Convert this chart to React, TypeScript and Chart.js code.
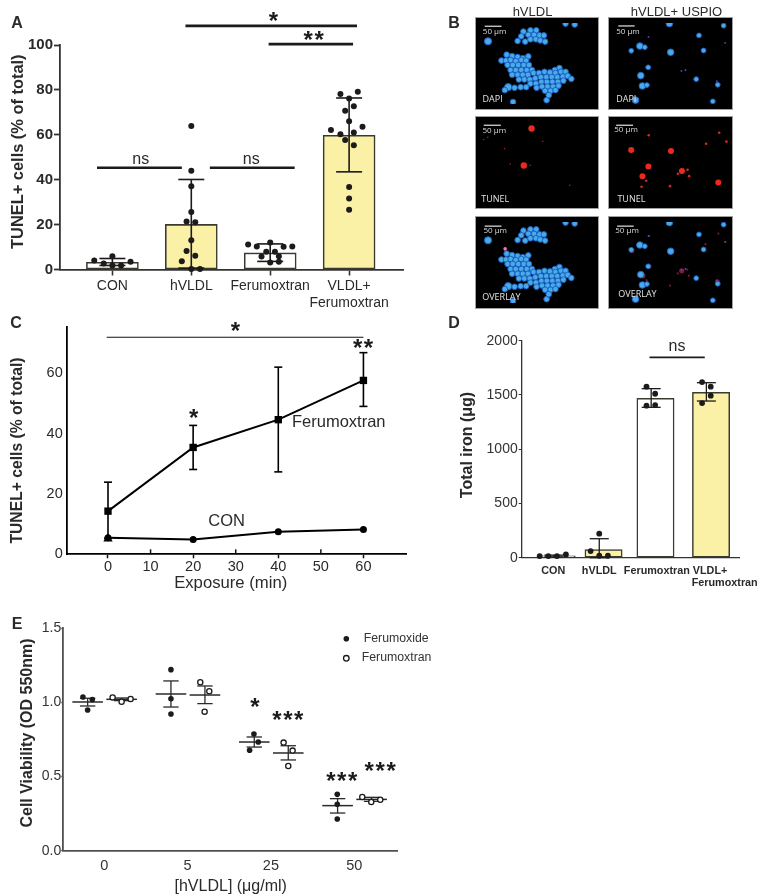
import React, { useEffect, useRef } from "react";
import { Chart, registerables } from "chart.js";

Chart.register(...registerables);

const SANS = '"Liberation Sans", Arial, sans-serif';
const INK = "#1c1a1a";
const TEXT = "#2a2a2a";
const YELLOW = "#faf1a6";

/* ---------- Panel A ---------- */
const aLabels = ["CON", "hVLDL", "Ferumoxtran", ["VLDL+", "Ferumoxtran"]];
const aMeans = [3.2, 20.1, 7.4, 59.8];
const aLow = [1.8, 0.6, 3.6, 43.5];
const aHigh = [4.9, 40.1, 11.4, 76.4];
const aConX = [0.77, 0.89, 1, 1, 1.11, 1.23];
const aConY = [4, 2.7, 5.9, 1.8, 1.8, 3.4];
const aVldlX = [2, 2, 2, 2, 1.94, 2.05, 2, 1.94, 2.05, 1.88, 2, 2.11];
const aVldlY = [63.9, 44, 37.1, 25.6, 21.4, 21, 13, 8.2, 6.1, 3.7, 0.2, 0.2];
const aFeruX = [2.72, 2.83, 3, 3.17, 3.28, 2.95, 3.06, 2.89, 3.11, 3, 3.11];
const aFeruY = [11.1, 10.3, 12, 10.1, 10.3, 7.9, 7.9, 5.8, 5.9, 3.1, 3.4];
const aBothX = [3.89, 4.11, 4, 4.06, 3.95, 4, 3.77, 3.89, 4.06, 4.17, 3.95, 4.06, 4, 4, 4];
const aBothY = [78.2, 79.2, 76.2, 72.7, 70.7, 66, 62.1, 60.3, 61, 63.6, 57.7, 55.3, 36.7, 31.6, 26.6];

/* ---------- Panel C ---------- */
const cTimes = [0, 20, 40, 60];
const cFeru = [14.3, 35.4, 44.6, 57.6];
const cFeruLow = [5.3, 28.1, 27.3, 49];
const cFeruHigh = [23.9, 42.7, 62, 66.8];
const cCon = [5.5, 4.9, 7.5, 8.2];
const cTicks = [0, 10, 20, 30, 40, 50, 60];

/* ---------- Panel D ---------- */
const dBarX = [1, 1.873, 2.839, 3.873];
const dMeans = [17, 74, 1469, 1524];
const dErrX = [0.95, 1.793, 2.759, 3.786];
const dLow = [8, 0, 1386, 1444];
const dHigh = [24, 175, 1558, 1613];
const dPtX = [0.684, 0.845, 1.006, 1.173, 1.793, 1.632, 1.793, 1.954, 2.672, 2.833, 2.672, 2.833, 3.706, 3.867, 3.867, 3.706];
const dPtY = [15, 15, 15, 30, 221, 61, 18, 18, 1576, 1511, 1401, 1407, 1619, 1576, 1493, 1425];
const dTickX = [0.938, 1.793, 2.864, 3.854, 4.127];
const dTickLabels = ["CON", "hVLDL", "Ferumoxtran", "VLDL+", ["", "Ferumoxtran"]];

/* ---------- Panel E ---------- */
const eDoses = ["0", "5", "25", "50"];
const eFxdX = [-0.2, 0.8, 1.8, 2.8];
const eFxtX = [0.208, 1.208, 2.208, 3.208];
const eFxdMean = [1.003, 1.057, 0.733, 0.304];
const eFxdLow = [0.976, 0.969, 0.699, 0.254];
const eFxdHigh = [1.028, 1.145, 0.767, 0.351];
const eFxtMean = [1.021, 1.05, 0.659, 0.346];
const eFxtLow = [1.012, 0.992, 0.612, 0.333];
const eFxtHigh = [1.03, 1.111, 0.708, 0.36];
const eFxdPtX = [-0.256, -0.144, -0.2, 0.8, 0.8, 0.8, 1.796, 1.848, 1.744, 2.796, 2.796, 2.796];
const eFxdPtY = [1.037, 1.019, 0.949, 1.221, 1.025, 0.922, 0.787, 0.733, 0.677, 0.38, 0.313, 0.214];
const eFxtPtX = [0.1, 0.208, 0.316, 1.152, 1.26, 1.204, 2.152, 2.26, 2.208, 3.096, 3.204, 3.312];
const eFxtPtY = [1.034, 1.005, 1.023, 1.136, 1.075, 0.938, 0.729, 0.675, 0.571, 0.362, 0.328, 0.344];

/* ---------- Panel B: spots ---------- */
const dapiLeft = [
  [247, 82], [270, 78], [289, 78], [240, 98], [263, 93], [282, 93], [300, 95], [314, 95], [228, 114], [253, 116], [270, 108], [288, 108], [302, 112], [318, 116],
  [192, 160], [210, 165], [228, 168], [245, 172], [263, 166], [175, 180], [190, 180], [205, 178], [222, 182], [240, 178], [256, 180],
  [195, 195], [212, 195], [230, 195], [248, 195], [265, 195], [205, 212], [222, 212], [240, 212], [258, 212], [275, 212], [365, 205], [350, 212],
  [210, 228], [228, 228], [245, 228], [262, 228], [280, 222], [298, 222], [316, 218], [334, 220], [352, 222], [370, 218], [385, 218],
  [232, 244], [250, 244], [268, 244], [286, 240], [304, 236], [322, 236], [340, 236], [358, 236], [376, 234], [392, 232], [404, 242],
  [270, 258], [288, 258], [306, 252], [324, 252], [342, 252], [360, 252], [378, 248], [290, 272], [308, 268], [326, 268], [344, 268], [362, 265],
  [318, 282], [336, 282], [352, 280], [330, 297], [218, 272], [238, 270], [256, 270], [186, 280], [323, 314], [213, 320], [415, 58], [385, 55],
];
const dapiLeftLarge = [[131, 115], [197, 270]];
const dapiRight = [[862, 62], [782, 95], [606, 135], [562, 147], [797, 146], [617, 203], [773, 243], [843, 262], [827, 318], [613, 263]];
const dapiRightLarge = [[686, 55], [590, 131], [690, 152], [593, 231], [598, 266], [576, 314]];
const dapiRightFaint = [[618, 100], [725, 215], [867, 120], [738, 212], [840, 250]];
const tunelLeftLarge = [[249, 498], [274, 376]];
const tunelLeftSmall = [[187, 442], [120, 412], [133, 405], [310, 418], [270, 497], [205, 493], [397, 563]];
const tunelRightLarge = [[564, 447], [691, 450], [619, 501], [600, 533], [726, 516], [842, 554]];
const tunelRightSmall = [[620, 398], [845, 390], [803, 426], [868, 419], [744, 512], [713, 525], [749, 533], [597, 568], [688, 566], [612, 548]];
const overlaySpotsLeft = [[274, 378], [248, 501], [187, 442]];

type Rect = [number, number, number, number];
type Note = {
  text: string; font: string; x: number; y: number; page?: boolean; rot?: number; star?: number; align?: CanvasTextAlign; color?: string;
};

function notesPlugin(rect: Rect, notes: Note[], extra?: (c: any) => void) {
  return {
    id: "notes",
    afterDatasetsDraw(chart: any) {
      const ctx = chart.ctx;
      ctx.save();
      for (const n of notes) {
        const px = n.page ? n.x - rect[0] : chart.scales.x.getPixelForValue(n.x);
        let py = n.page ? n.y - rect[1] : chart.scales.y.getPixelForValue(n.y);
        ctx.save();
        ctx.font = n.font;
        ctx.fillStyle = n.color || TEXT;
        ctx.textAlign = n.align || "center";
        ctx.textBaseline = n.star ? "alphabetic" : "middle";
        if (n.star) {
          py += n.star * 0.46;
          (ctx as any).letterSpacing = "1.6px";
        }
        ctx.translate(px, py);
        if (n.rot) ctx.rotate(n.rot);
        ctx.fillText(n.text, 0, 0);
        ctx.restore();
      }
      if (extra) extra(chart);
      ctx.restore();
    },
  };
}

const zip = (xs: number[], ys: number[]) => xs.map((x, i) => ({ x, y: ys[i] }));

function errorBar(x: number, low: number, high: number, cap: number, color = INK, w = 1.6) {
  return {
    type: "scatter", showLine: true, clip: false, order: 3,
    data: [{ x, y: low }, { x, y: high }],
    borderColor: color, borderWidth: w,
    pointStyle: "line", pointRadius: cap, pointBorderColor: color, pointBorderWidth: w,
  };
}
function rule(x1: number, x2: number, y: number, w = 2.6, color = INK) {
  return {
    type: "scatter", showLine: true, clip: false, order: 1,
    data: [{ x: x1, y }, { x: x2, y }],
    borderColor: color, borderWidth: w, pointRadius: 0,
  };
}
function dots(xs: number[], ys: number[], r = 3, fill = INK, stroke = INK) {
  return {
    type: "scatter", order: 2, clip: false, data: zip(xs, ys),
    pointRadius: r, pointBackgroundColor: fill, pointBorderColor: stroke, pointBorderWidth: fill === INK ? 0 : 1.3,
  };
}

function frame(rect: Rect, plot: [number, number, number, number]) {
  const [, , w, h] = rect;
  const [L, T, R, B] = plot;
  const zero = (s: any) => { s.paddingLeft = s.paddingRight = s.paddingTop = s.paddingBottom = 0; };
  return {
    xFit: (s: any) => { s.height = h - B; zero(s); },
    yFit: (s: any) => { s.width = L; zero(s); },
    base: {
      responsive: false, animation: false, devicePixelRatio: 1,
      layout: { padding: { left: 0, top: T, right: w - R, bottom: 0 } },
      plugins: { legend: { display: false }, tooltip: { enabled: false } },
    },
  };
}

/* ---------- chart configs ---------- */
function configA(rect: Rect) {
  const f = frame(rect, [60, 45, 403, 269.5]);
  const bx = [1, 2, 3, 4];
  return {
    type: "bar",
    data: {
      datasets: [
        { type: "bar", order: 5, data: zip(bx, aMeans), barThickness: 52, grouped: false, backgroundColor: ["#fff", YELLOW, "#fff", YELLOW], borderColor: "#3a3a30", borderWidth: 1.6, borderSkipped: false },
        ...bx.map((x, i) => errorBar(x, aLow[i], aHigh[i], 13)),
        dots(aConX, aConY), dots(aVldlX, aVldlY), dots(aFeruX, aFeruY), dots(aBothX, aBothY),
        rule(0.805, 1.88, 45.3), rule(2.235, 3.31, 45.3), rule(1.926, 4.1, 108.5), rule(2.98, 4.05, 100.4),
      ],
    },
    options: {
      ...f.base,
      scales: {
        x: {
          type: "linear", min: 0.336, max: 4.683, offset: false, afterFit: f.xFit,
          afterBuildTicks: (s: any) => { s.ticks = bx.map((value) => ({ value })); },
          grid: { drawOnChartArea: false, offset: false, tickLength: 6, tickWidth: 1.6, tickColor: "#333" },
          border: { color: "#333", width: 1.8 },
          ticks: { autoSkip: false, maxRotation: 0, minRotation: 0, padding: 2, color: TEXT, font: { family: SANS, size: 14 }, callback: (_: any, i: number) => aLabels[i] },
        },
        y: {
          min: 0, max: 100, afterFit: f.yFit,
          grid: { drawOnChartArea: false, tickLength: 6, tickWidth: 1.8, tickColor: "#333" },
          border: { color: "#333", width: 1.8 },
          ticks: { stepSize: 20, padding: 1, color: TEXT, font: { family: SANS, size: 15, weight: "bold" } },
        },
      },
    },
    plugins: [notesPlugin(rect, [
      { page: true, x: 18, y: 151.7, rot: -Math.PI / 2, text: "TUNEL+ cells (% of total)", font: `bold 16.4px ${SANS}` },
      { x: 1.36, y: 49, text: "ns", font: `16px ${SANS}` },
      { x: 2.76, y: 49, text: "ns", font: `16px ${SANS}` },
      { x: 3.05, y: 112, star: 24, text: "*", font: `bold 24px ${SANS}`, color: INK },
      { x: 3.56, y: 103.4, star: 24, text: "**", font: `bold 24px ${SANS}`, color: INK },
    ])],
  };
}

function configC(rect: Rect) {
  const f = frame(rect, [66.7, 17, 406, 244.3]);
  const minorUp = (chart: any) => {
    const { ctx, scales } = chart;
    ctx.strokeStyle = "#111";
    ctx.lineWidth = 1.5;
    for (const v of cTicks) {
      if (cTimes.includes(v)) continue;
      const x = scales.x.getPixelForValue(v);
      ctx.beginPath();
      ctx.moveTo(x, scales.y.bottom);
      ctx.lineTo(x, scales.y.bottom - 5);
      ctx.stroke();
    }
  };
  return {
    type: "scatter",
    data: {
      datasets: [
        ...cTimes.map((x, i) => errorBar(x, cFeruLow[i], cFeruHigh[i], 4, "#000", 1.6)),
        { type: "scatter", order: 4, clip: false, data: zip([cTimes[0]], [cCon[0] - 0.4]), pointStyle: "triangle", pointRadius: 5.4, pointBackgroundColor: "#000", pointBorderWidth: 0 },
        { type: "scatter", order: 2, showLine: true, clip: false, data: zip(cTimes, cFeru), borderColor: "#000", borderWidth: 2, pointStyle: "rect", pointRadius: 5.2, pointBackgroundColor: "#000", pointBorderWidth: 0 },
        { type: "scatter", order: 2, showLine: true, clip: false, data: zip(cTimes, cCon), borderColor: "#000", borderWidth: 2, pointStyle: "circle", pointRadius: 3.5, pointBackgroundColor: "#000", pointBorderWidth: 0 },
        rule(-0.3, 60, 71.9, 1.1, "#111"),
      ],
    },
    options: {
      ...f.base,
      scales: {
        x: {
          type: "linear", min: -9.7, max: 70, afterFit: f.xFit,
          afterBuildTicks: (s: any) => { s.ticks = cTicks.map((value) => ({ value })); },
          grid: { drawOnChartArea: false, tickLength: 4, tickWidth: 1.5, tickColor: (c: any) => (cTimes.includes(c.tick?.value) ? "#111" : "rgba(0,0,0,0)") },
          border: { color: "#000", width: 1.8 },
          ticks: { autoSkip: false, maxRotation: 0, minRotation: 0, padding: 0, color: TEXT, font: { family: SANS, size: 14.5 } },
        },
        y: {
          min: 0, max: 75.3, afterFit: f.yFit,
          afterBuildTicks: (s: any) => { s.ticks = [0, 20, 40, 60].map((value) => ({ value })); },
          grid: { drawOnChartArea: false, drawTicks: false },
          border: { color: "#000", width: 1.8 },
          ticks: { padding: 4, color: TEXT, font: { family: SANS, size: 14.5 } },
        },
      },
    },
    plugins: [notesPlugin(rect, [
      { page: true, x: 18, y: 450.5, rot: -Math.PI / 2, text: "TUNEL+ cells (% of total)", font: `bold 15.7px ${SANS}` },
      { page: true, x: 230.7, y: 583.3, text: "Exposure (min)", font: `16.7px ${SANS}` },
      { x: 30.1, y: 74.9, star: 24, text: "*", font: `bold 24px ${SANS}`, color: INK },
      { x: 60.1, y: 69.4, star: 24, text: "**", font: `bold 24px ${SANS}`, color: INK },
      { x: 20.3, y: 46.2, star: 24, text: "*", font: `bold 24px ${SANS}`, color: INK },
      { page: true, x: 292, y: 422.7, align: "left", text: "Ferumoxtran", font: `16.5px ${SANS}` },
      { page: true, x: 226.7, y: 521.7, text: "CON", font: `16.5px ${SANS}` },
    ], minorUp)],
  };
}

function configD(rect: Rect) {
  const f = frame(rect, [81.7, 30.7, 299, 247.7]);
  return {
    type: "bar",
    data: {
      datasets: [
        { type: "bar", order: 5, data: zip(dBarX, dMeans), barThickness: 37.3, grouped: false, backgroundColor: ["#fff", YELLOW, "#fff", YELLOW], borderColor: "#3a3a30", borderWidth: 1.5, borderSkipped: false },
        ...dErrX.map((x, i) => errorBar(x, dLow[i], dHigh[i], 9.5, INK, 1.3)),
        dots(dPtX, dPtY, 2.9),
        rule(2.728, 3.756, 1846, 1.6),
      ],
    },
    options: {
      ...f.base,
      scales: {
        x: {
          type: "linear", min: 0.35, max: 4.393, offset: false, afterFit: f.xFit,
          afterBuildTicks: (s: any) => { s.ticks = dTickX.map((value) => ({ value })); },
          grid: { drawOnChartArea: false, offset: false, drawTicks: false },
          border: { color: "#333", width: 1.3 },
          ticks: { autoSkip: false, maxRotation: 0, minRotation: 0, padding: 7, color: TEXT, font: { family: SANS, size: 10.8, weight: "bold", lineHeight: 1.15 }, callback: (_: any, i: number) => dTickLabels[i] },
        },
        y: {
          min: 0, max: 2000, afterFit: f.yFit,
          grid: { drawOnChartArea: false, tickLength: 3, tickWidth: 1, tickColor: "#333" },
          border: { color: "#333", width: 1.3 },
          ticks: { stepSize: 500, padding: 1, color: "#333", font: { family: SANS, size: 14 }, callback: (v: any) => String(v) },
        },
      },
    },
    plugins: [notesPlugin(rect, [
      { page: true, x: 467.3, y: 445, rot: -Math.PI / 2, text: "Total iron (\u03bcg)", font: `bold 16px ${SANS}` },
      { x: 3.24, y: 1945, text: "ns", font: `16px ${SANS}` },
    ])],
  };
}

function configE(rect: Rect) {
  const f = frame(rect, [63.3, 18.3, 397, 240.7]);
  const legend = (chart: any) => {
    const { ctx } = chart;
    ctx.lineWidth = 1.3;
    ctx.fillStyle = INK;
    ctx.strokeStyle = INK;
    ctx.beginPath(); ctx.arc(346.3 - rect[0], 638.7 - rect[1], 2.8, 0, Math.PI * 2); ctx.fill();
    ctx.fillStyle = "#fff";
    ctx.beginPath(); ctx.arc(346.3 - rect[0], 658.3 - rect[1], 2.8, 0, Math.PI * 2); ctx.fill(); ctx.stroke();
  };
  const group = (xs: number[], means: number[], lows: number[], highs: number[]) =>
    xs.flatMap((x, i) => [
      errorBar(x, lows[i], highs[i], 7.7, "#2a2a2a", 1.3),
      {
        type: "scatter", showLine: false, order: 3, clip: false, data: [{ x, y: means[i] }],
        pointStyle: "line", pointRadius: 15.3, pointBorderColor: "#2a2a2a", pointBorderWidth: 1.5,
      },
    ]);
  return {
    type: "scatter",
    data: {
      datasets: [
        ...group(eFxdX, eFxdMean, eFxdLow, eFxdHigh),
        ...group(eFxtX, eFxtMean, eFxtLow, eFxtHigh),
        dots(eFxdPtX, eFxdPtY, 2.8),
        dots(eFxtPtX, eFxtPtY, 2.6, "#fff", INK),
      ],
    },
    options: {
      ...f.base,
      scales: {
        x: {
          type: "linear", min: -0.492, max: 3.513, afterFit: f.xFit,
          afterBuildTicks: (s: any) => { s.ticks = eDoses.map((_, value) => ({ value })); },
          grid: { drawOnChartArea: false, drawTicks: false },
          border: { color: "#505050", width: 1.8 },
          ticks: { autoSkip: false, maxRotation: 0, minRotation: 0, padding: 7, color: "#333", font: { family: SANS, size: 14.5 }, callback: (_: any, i: number) => eDoses[i] },
        },
        y: {
          min: 0, max: 1.5, afterFit: f.yFit,
          grid: { drawOnChartArea: false, tickLength: 2, tickWidth: 1.6, tickColor: "#505050" },
          border: { color: "#505050", width: 1.8 },
          ticks: { stepSize: 0.5, padding: 0, color: "#333", font: { family: SANS, size: 14 }, callback: (v: any) => Number(v).toFixed(1) },
        },
      },
    },
    plugins: [notesPlugin(rect, [
      { page: true, x: 27.7, y: 733, rot: -Math.PI / 2, text: "Cell Viability (OD 550nm)", font: `bold 16px ${SANS}` },
      { page: true, x: 230.7, y: 886.7, text: "[hVLDL] (\u03bcg/ml)", font: `16px ${SANS}` },
      { x: 1.816, y: 0.989, star: 24, text: "*", font: `bold 24px ${SANS}`, color: INK },
      { x: 2.212, y: 0.9, star: 24, text: "***", font: `bold 24px ${SANS}`, color: INK },
      { x: 2.86, y: 0.492, star: 24, text: "***", font: `bold 24px ${SANS}`, color: INK },
      { x: 3.32, y: 0.561, star: 24, text: "***", font: `bold 24px ${SANS}`, color: INK },
      { page: true, x: 363.7, y: 638.7, align: "left", text: "Ferumoxide", font: `12.3px ${SANS}`, color: "#333" },
      { page: true, x: 361.7, y: 657.7, align: "left", text: "Ferumoxtran", font: `12.3px ${SANS}`, color: "#333" },
    ], legend)],
  };
}

/* micrograph panels */
const spots = (pts: number[][], dx: number, dy: number, r: number, fill: string, stroke = "rgba(0,0,0,0)", bw = 0) => ({
  type: "scatter", data: pts.map(([x, y]) => ({ x: x - dx, y: y - dy })),
  pointRadius: r, pointBackgroundColor: fill, pointBorderColor: stroke, pointBorderWidth: bw,
});
const CELL = "#4aaae8";
const CELLEDGE = "#1a62c6";
const leftDapi = () => [
  spots(dapiLeft, 108, 53, 2.8, CELL, CELLEDGE, 1),
  spots(dapiLeftLarge, 108, 53, 3.6, CELL, CELLEDGE, 1),
];
const rightDapi = () => [
  spots(dapiRightFaint, 506, 53, 0.9, "#5a4ac0"),
  spots(dapiRight, 506, 53, 2.4, CELL, CELLEDGE, 1),
  spots(dapiRightLarge, 506, 53, 3.3, CELL, CELLEDGE, 1),
];
type Mic = { rect: Rect; sets: any[]; tag: string; tagAt: [number, number]; scaleText: [number, number]; bar: [number, number, number] };

const mics: Mic[] = [
  { rect: [476, 17.7, 122.3, 91.3], sets: leftDapi(), tag: "DAPI", tagAt: [5, 259], scaleText: [6, 31], bar: [12, 67, 11] },
  { rect: [608.7, 17.7, 123, 91.3], sets: rightDapi(), tag: "DAPI", tagAt: [7, 259], scaleText: [7, 29], bar: [14, 67, 10] },
  { rect: [476, 117, 122.3, 91.3], sets: [spots(tunelLeftLarge, 108, 351, 3.2, "#e82a20"), spots(tunelLeftSmall, 108, 351, 0.8, "#a02418")], tag: "TUNEL", tagAt: [4, 259], scaleText: [8, 31], bar: [12, 67, 14] },
  { rect: [608.7, 117, 123, 91.3], sets: [spots(tunelRightLarge, 506, 351, 3, "#e82a20"), spots(tunelRightSmall, 506, 351, 1.3, "#d42a20")], tag: "TUNEL", tagAt: [14, 259], scaleText: [4, 30], bar: [10, 64, 14] },
  { rect: [476, 217, 122.3, 91.3], sets: [...leftDapi(), spots(overlaySpotsLeft, 108, 351, 1.8, "#ff6fc0")], tag: "OVERLAY", tagAt: [4, 254], scaleText: [8, 31], bar: [12, 67, 14] },
  { rect: [608.7, 217, 123, 91.3], sets: [...rightDapi(), spots(tunelRightLarge, 506, 351, 2.6, "rgba(226,50,110,0.55)"), spots(tunelRightSmall, 506, 351, 1.1, "rgba(200,40,90,0.6)")], tag: "OVERLAY", tagAt: [14, 246], scaleText: [4, 30], bar: [10, 64, 14] },
];

function configMic(m: Mic) {
  const [a, b, y] = m.bar;
  return {
    type: "scatter",
    data: {
      datasets: [
        ...m.sets,
        { type: "scatter", showLine: true, data: [{ x: a, y }, { x: b, y }], borderColor: "#e6e6e6", borderWidth: 1.2, pointRadius: 0 },
      ],
    },
    options: {
      responsive: false, animation: false, devicePixelRatio: 1,
      layout: { padding: 0 },
      plugins: { legend: { display: false }, tooltip: { enabled: false } },
      scales: { x: { display: false, min: 0, max: 367 }, y: { display: false, min: 0, max: 274, reverse: true } },
    },
    plugins: [notesPlugin(m.rect, [
      { x: m.scaleText[0], y: m.scaleText[1], align: "left", text: "50 \u00b5m", font: `8px "Open Sans", ${SANS}`, color: "#dcdcdc" },
      { x: m.tagAt[0], y: m.tagAt[1], align: "left", text: m.tag, font: `9px "Open Sans", ${SANS}`, color: "#e4e4e4" },
    ])],
  };
}

function Plot({ rect, make, micro }: { rect: Rect; make: () => any; micro?: boolean }) {
  const ref = useRef<HTMLCanvasElement>(null);
  useEffect(() => {
    const chart = new Chart(ref.current as any, make());
    return () => chart.destroy();
  }, []);
  const style: React.CSSProperties = {
    position: "absolute", left: rect[0], top: rect[1], width: rect[2], height: rect[3],
    ...(micro ? { background: "#000", outline: "1px solid #a0a0a0", filter: "blur(0.35px)" } : {}),
  };
  return <canvas ref={ref} width={rect[2]} height={rect[3]} style={style} />;
}

function Tag({ x, y, children, bold, size }: { x: number; y: number; children: React.ReactNode; bold?: boolean; size: number }) {
  return (
    <div style={{
      position: "absolute", left: x, top: y, transform: "translate(-50%,-50%)", whiteSpace: "nowrap",
      font: `${bold ? "bold " : ""}${size}px ${SANS}`, color: TEXT, lineHeight: 1,
    }}>{children}</div>
  );
}

export default function App() {
  useEffect(() => {
    document.body.style.margin = "0";
    document.body.style.background = "#fff";
  }, []);
  const rA: Rect = [0, 0, 440, 316];
  const rC: Rect = [0, 310, 420, 290];
  const rD: Rect = [440, 310, 318, 290];
  const rE: Rect = [0, 610, 460, 286];
  return (
    <div style={{ position: "absolute", left: 0, top: 0, width: 758, height: 896, overflow: "hidden", background: "#fff" }}>
      <Plot rect={rA} make={() => configA(rA)} />
      <Plot rect={rC} make={() => configC(rC)} />
      <Plot rect={rD} make={() => configD(rD)} />
      <Plot rect={rE} make={() => configE(rE)} />
      {mics.map((m, i) => <Plot key={i} rect={m.rect} micro make={() => configMic(m)} />)}
      <Tag x={17} y={23} bold size={16}>A</Tag>
      <Tag x={454} y={23} bold size={16}>B</Tag>
      <Tag x={16} y={323} bold size={16}>C</Tag>
      <Tag x={454} y={323} bold size={16}>D</Tag>
      <Tag x={17} y={624} bold size={16}>E</Tag>
      <Tag x={532.5} y={11} size={13}>hVLDL</Tag>
      <Tag x={676.5} y={11} size={13}>hVLDL+ USPIO</Tag>
    </div>
  );
}
